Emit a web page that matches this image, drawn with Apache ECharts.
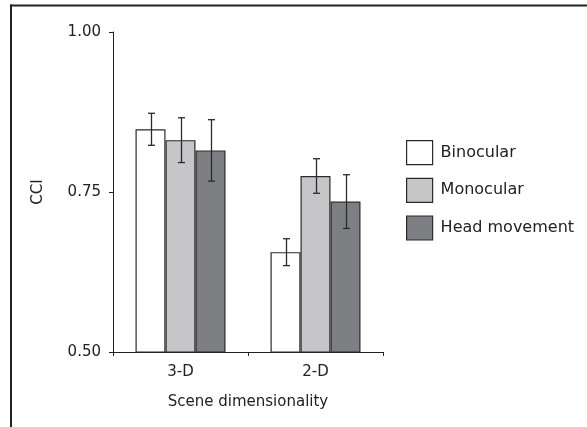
<!DOCTYPE html>
<html>
<head>
<meta charset="utf-8">
<script src="https://cdn.jsdelivr.net/npm/echarts@6/dist/echarts.min.js"></script>
<style>
html,body{margin:0;padding:0;background:#fff;}
#c{width:587px;height:427px;}
</style>
</head>
<body>
<div id="c"></div>
<script>
const categories = ['3-D', '2-D'];
const seriesNames = ['Binocular', 'Monocular', 'Head movement'];
const binocular = [0.848, 0.656];
const monocular = [0.831, 0.775];
const headMovement = [0.815, 0.735];
const binocularErr = [0.025, 0.021];
const monocularErr = [0.035, 0.027];
const headMovementErr = [0.048, 0.042];
const yTicks = [0.50, 0.75, 1.00];

const values = [binocular, monocular, headMovement];
const errs = [binocularErr, monocularErr, headMovementErr];
const fills = ['#ffffff', '#c6c6c8', '#7e7f83'];
const FONT = 'DejaVu Sans';
const BAR_W = 30;

const chart = echarts.init(document.getElementById('c'), null, {renderer: 'canvas'});

const barSeries = seriesNames.map((name, i) => ({
  name: name,
  type: 'bar',
  data: values[i],
  barWidth: BAR_W,
  barGap: '0%',
  barCategoryGap: '33%',
  itemStyle: {color: fills[i], borderColor: '#2a2a2a', borderWidth: 1.2},
  emphasis: {disabled: true},
  silent: true,
  z: 2
}));

const errSeries = seriesNames.map((name, i) => ({
  name: 'err_' + i,
  type: 'custom',
  data: categories.map((c, k) => [k, values[i][k] - errs[i][k], values[i][k] + errs[i][k]]),
  encode: {x: 0, y: [1, 2]},
  silent: true,
  z: 5,
  renderItem: function (params, api) {
    const ci = api.value(0);
    const pHi = api.coord([ci, api.value(2)]);
    const pLo = api.coord([ci, api.value(1)]);
    const x = Math.round(pHi[0] + (i - 1) * BAR_W) + 0.5;
    const cap = 3.5;
    const st = {stroke: '#2a2a2a', lineWidth: 1.3};
    return {
      type: 'group',
      children: [
        {type: 'line', shape: {x1: x, y1: pHi[1], x2: x, y2: pLo[1]}, style: st},
        {type: 'line', shape: {x1: x - cap, y1: pHi[1], x2: x + cap, y2: pHi[1]}, style: st},
        {type: 'line', shape: {x1: x - cap, y1: pLo[1], x2: x + cap, y2: pLo[1]}, style: st}
      ]
    };
  }
}));

chart.setOption({
  animation: false,
  backgroundColor: '#ffffff',
  grid: {left: 113, right: 204, top: 32, bottom: 75, containLabel: false},
  xAxis: {
    type: 'category',
    data: categories,
    boundaryGap: true,
    name: 'Scene dimensionality',
    nameLocation: 'middle',
    nameGap: 43,
    nameTextStyle: {fontFamily: FONT, fontSize: 15, color: '#222'},
    axisLine: {lineStyle: {color: '#222', width: 1}},
    axisTick: {show: true, length: 4, alignWithLabel: false, lineStyle: {color: '#222'}},
    axisLabel: {fontFamily: FONT, fontSize: 15, color: '#222', margin: 13}
  },
  yAxis: {
    type: 'value',
    min: yTicks[0],
    max: yTicks[yTicks.length - 1],
    interval: 0.25,
    name: 'CCI',
    nameLocation: 'middle',
    nameRotate: 90,
    nameGap: 67,
    nameTextStyle: {fontFamily: FONT, fontSize: 15, color: '#222'},
    axisLine: {show: true, lineStyle: {color: '#222', width: 1}},
    axisTick: {show: true, length: 4, lineStyle: {color: '#222'}},
    splitLine: {show: false},
    axisLabel: {fontFamily: FONT, fontSize: 15, color: '#222', margin: 12,
      formatter: v => v.toFixed(2)}
  },
  legend: {
    orient: 'vertical',
    left: 406,
    top: 140,
    padding: 0,
    itemWidth: 26,
    itemHeight: 24,
    itemGap: 12.5,
    icon: 'rect',
    selectedMode: false,
    textStyle: {fontFamily: FONT, fontSize: 16, color: '#222', padding: [0, 0, 0, 3]},
    data: seriesNames.map((n, i) => ({
      name: n,
      itemStyle: {color: fills[i], borderColor: '#2a2a2a', borderWidth: 1.2}
    }))
  },
  graphic: [
    {type: 'line', shape: {x1: 10, y1: 5.5, x2: 587, y2: 5.5}, style: {stroke: '#222', lineWidth: 2}, silent: true},
    {type: 'line', shape: {x1: 11, y1: 4.5, x2: 11, y2: 427}, style: {stroke: '#222', lineWidth: 2}, silent: true}
  ],
  series: barSeries.concat(errSeries)
});
</script>
</body>
</html>
